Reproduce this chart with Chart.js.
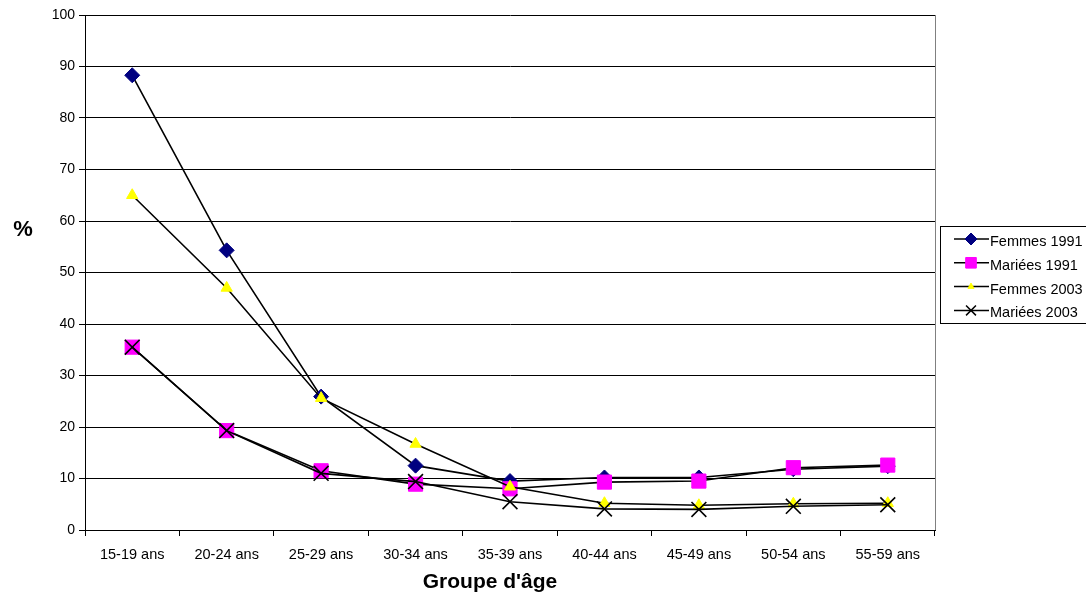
<!DOCTYPE html>
<html>
<head>
<meta charset="utf-8">
<script src="https://cdn.jsdelivr.net/npm/chart.js@4"></script>
<style>
  html, body { margin: 0; padding: 0; background: #fff; }
  #wrap { width: 1086px; height: 592px; position: relative; }
</style>
</head>
<body>
<div id="wrap"><canvas id="chart" width="1086" height="592"></canvas></div>
<script>
'use strict';

// ── Données ────────────────────────────────────────────────────────────
const ageGroups = ['15-19 ans', '20-24 ans', '25-29 ans', '30-34 ans', '35-39 ans',
                   '40-44 ans', '45-49 ans', '50-54 ans', '55-59 ans'];
const femmes1991  = [88.3, 54.3, 25.9, 12.5, 9.5, 10.2, 10.2, 11.8, 12.4];
const mariees1991 = [35.5, 19.3, 11.5, 8.9, 8.0, 9.3, 9.5, 12.1, 12.6];
const femmes2003  = [65.0, 47.0, 25.6, 16.7, 8.4, 5.2, 4.8, 5.1, 5.2];
const mariees2003 = [35.5, 19.3, 11.0, 9.4, 5.5, 4.1, 4.0, 4.6, 4.9];
const yTicks = [0, 10, 20, 30, 40, 50, 60, 70, 80, 90, 100];
const xTitle = "Groupe d'âge";
const yTitle = '%';

const FONT = 'Arial, "Liberation Sans", sans-serif';
const C = {
  navy:    '#000080',
  magenta: '#FF00FF',
  yellow:  '#FFFF00',
  black:   '#000000',
  grey:    '#808080',
};

Chart.defaults.font.family = FONT;
Chart.defaults.color = '#000';

// r = rayon dans le graphique, lr = rayon dans la légende
const series = [
  { label: 'Femmes 1991',  data: femmes1991,  style: 'rectRot',  fill: C.navy,    stroke: C.navy,    r: 7.5, lr: 6,   order: 3 },
  { label: 'Mariées 1991', data: mariees1991, style: 'rect',     fill: C.magenta, stroke: C.magenta, r: 10,  lr: 7.5, order: 2 },
  { label: 'Femmes 2003',  data: femmes2003,  style: 'triangle', fill: C.yellow,  stroke: C.yellow,  r: 6.5, lr: 3.5, order: 1 },
  { label: 'Mariées 2003', data: mariees2003, style: 'crossRot', fill: C.black,   stroke: C.black,   r: 10.5, lr: 7,  order: 0 },
];

// ── Titres, bordure droite et légende ──────────────────────────────────
const decor = {
  id: 'decor',
  beforeDatasetsDraw(chart) {
    const { ctx, chartArea: a } = chart;
    ctx.save();
    ctx.strokeStyle = C.grey;
    ctx.lineWidth = 1;
    ctx.beginPath();
    ctx.moveTo(a.right + 0.5, a.top);
    ctx.lineTo(a.right + 0.5, a.bottom);
    ctx.stroke();
    ctx.restore();
  },
  afterDraw(chart) {
    const { ctx } = chart;
    ctx.save();
    ctx.fillStyle = '#000';
    ctx.textAlign = 'center';
    ctx.textBaseline = 'middle';
    ctx.font = 'bold 22px ' + FONT;
    ctx.fillText(yTitle, 23, 230);
    ctx.font = 'bold 21px ' + FONT;
    ctx.fillText(xTitle, 490, 582);

    // légende
    const bx = 940.5, by = 226.5, bw = 160, bh = 97;
    ctx.fillStyle = '#fff';
    ctx.fillRect(bx, by, bw, bh);
    ctx.strokeStyle = '#000';
    ctx.lineWidth = 1;
    ctx.strokeRect(bx, by, bw, bh);
    ctx.font = '14.5px ' + FONT;
    ctx.textAlign = 'left';
    series.forEach((s, i) => {
      const y = 239 + i * 23.8;
      ctx.strokeStyle = '#000';
      ctx.lineWidth = 1.5;
      ctx.beginPath();
      ctx.moveTo(954, y);
      ctx.lineTo(989, y);
      ctx.stroke();
      ctx.fillStyle = s.fill;
      ctx.strokeStyle = s.stroke;
      ctx.lineWidth = s.style === 'crossRot' ? 1.5 : 1;
      Chart.helpers.drawPoint(ctx, { pointStyle: s.style, radius: s.lr, rotation: 0, borderWidth: ctx.lineWidth }, 971, y);
      ctx.fillStyle = '#000';
      ctx.textBaseline = 'middle';
      ctx.fillText(s.label, 990, y + 3);
    });
    ctx.restore();
  },
};

new Chart(document.getElementById('chart'), {
  type: 'line',
  data: {
    labels: ageGroups,
    datasets: series.map(s => ({
      label: s.label,
      data: s.data,
      order: s.order,
      borderColor: C.black,
      borderWidth: 1.6,
      pointStyle: s.style,
      pointRadius: s.r,
      pointBackgroundColor: s.fill,
      pointBorderColor: s.stroke,
      pointBorderWidth: s.style === 'crossRot' ? 1.6 : 1,
      tension: 0,
      fill: false,
    })),
  },
  options: {
    responsive: false,
    animation: false,
    layout: { padding: { top: 15, right: 151, left: 0, bottom: 0 } },
    plugins: {
      legend: { display: false },
      tooltip: { enabled: false },
    },
    scales: {
      x: {
        offset: true,
        grid: { display: true, drawOnChartArea: false, drawTicks: true, tickLength: 6, offset: true, color: C.black },
        border: { color: C.black, width: 1 },
        ticks: { font: { size: 14.5 }, color: '#000', padding: 10, maxRotation: 0, autoSkip: false },
        afterFit(scale) { scale.height = 62; },
      },
      y: {
        min: 0,
        max: 100,
        afterBuildTicks(scale) { scale.ticks = yTicks.map(v => ({ value: v })); },
        grid: { color: C.black, lineWidth: 1, tickLength: 6 },
        border: { color: C.black, width: 1 },
        ticks: { font: { size: 14 }, color: '#000', padding: 4 },
        afterFit(scale) { scale.width = 85; },
      },
    },
  },
  plugins: [decor],
});
</script>
</body>
</html>
